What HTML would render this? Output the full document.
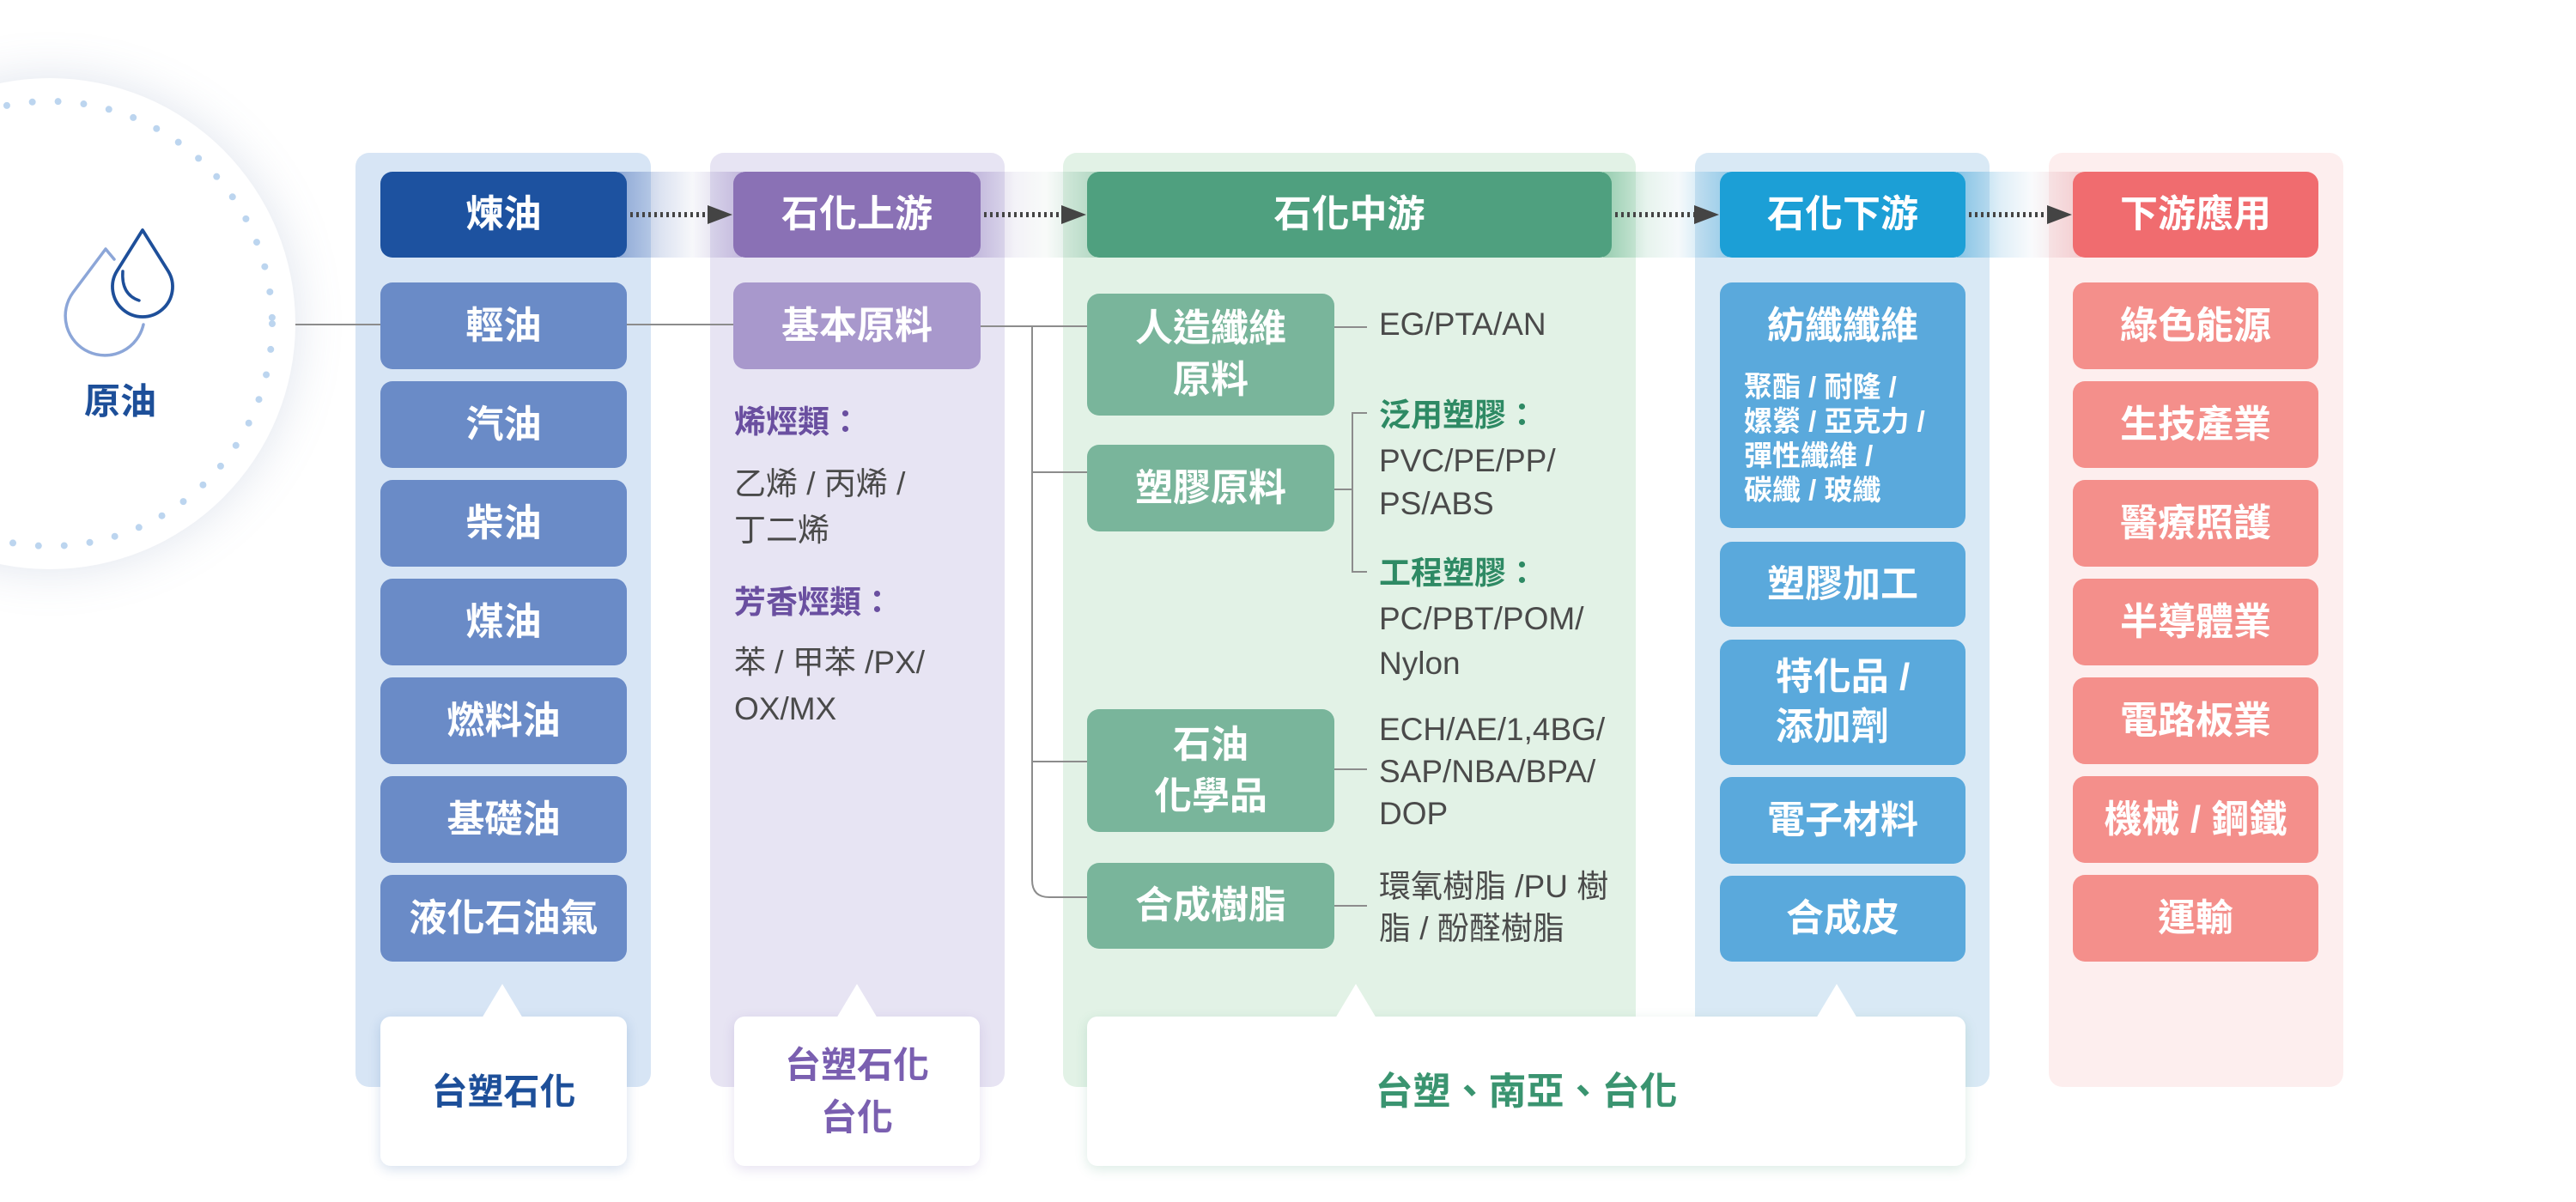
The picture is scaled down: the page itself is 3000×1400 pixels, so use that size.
<!DOCTYPE html>
<html>
<head>
<meta charset="utf-8">
<style>
  html,body{margin:0;padding:0;background:#fff;}
  body{width:3000px;height:1400px;position:relative;overflow:hidden;
       font-family:"Liberation Sans","Noto Sans CJK TC","Noto Sans CJK SC",sans-serif;}
  .abs{position:absolute;}
  .col{position:absolute;top:178px;height:1088px;border-radius:16px;z-index:1;}
  .band{position:absolute;top:200px;height:100px;z-index:2;}
  .b{position:absolute;display:flex;align-items:center;justify-content:center;text-align:center;
     color:#fff;font-size:44px;font-weight:700;border-radius:14px;z-index:4;line-height:60px;}
  .t{position:absolute;z-index:4;font-size:37px;line-height:50px;color:#4a4a4a;white-space:nowrap;}
  .co{position:absolute;top:1184px;height:174px;background:#fff;border-radius:12px;z-index:5;
      display:flex;align-items:center;justify-content:center;text-align:center;font-size:42px;line-height:61px;}
  .ptr{position:absolute;top:1146px;height:40px;background:#fff;z-index:6;
       clip-path:polygon(50% 0,100% 100%,0 100%);}
  svg.ov{position:absolute;left:0;top:0;z-index:3;}
</style>
</head>
<body>

<!-- crude oil circle -->
<div class="abs" style="left:-228px;top:91px;width:572px;height:572px;border-radius:50%;background:#fff;box-shadow:0 0 55px rgba(110,130,175,0.22);z-index:1;"></div>

<!-- column backgrounds -->
<div class="col" style="left:414px;width:344px;background:#d7e5f5;"></div>
<div class="col" style="left:827px;width:343px;background:#e7e4f3;"></div>
<div class="col" style="left:1238px;width:667px;background:#e2f2e6;"></div>
<div class="col" style="left:1974px;width:343px;background:#d9e9f5;"></div>
<div class="col" style="left:2386px;width:343px;background:#fdeeee;"></div>

<!-- bands -->
<div class="band" style="left:720px;width:144px;background:linear-gradient(to right,rgba(40,85,170,0.42),rgba(120,145,200,0.25) 35%,rgba(200,205,225,0.15) 60%,rgba(120,95,175,0.32));"></div>
<div class="band" style="left:1132px;width:144px;background:linear-gradient(to right,rgba(120,95,175,0.35),rgba(190,185,215,0.18) 35%,rgba(210,225,215,0.15) 60%,rgba(60,150,110,0.28));"></div>
<div class="band" style="left:1867px;width:146px;background:linear-gradient(to right,rgba(60,160,110,0.45),rgba(160,210,185,0.25) 35%,rgba(190,215,230,0.15) 60%,rgba(30,150,210,0.35));"></div>
<div class="band" style="left:2279px;width:145px;background:linear-gradient(to right,rgba(30,150,210,0.45),rgba(150,200,230,0.3) 35%,rgba(215,225,235,0.15) 60%,rgba(220,120,130,0.28));"></div>

<svg class="ov" width="3000" height="1400" viewBox="0 0 3000 1400">
  <!-- dotted ring -->
  <circle cx="58" cy="377" r="259" fill="none" stroke="#bcd5ef" stroke-width="8" stroke-linecap="round" stroke-dasharray="0 30"/>
  <!-- drops -->
  <path d="M133 302 L123 290 L84.8 341 A46 46 0 1 0 167 378" fill="none" stroke="#8ca6d8" stroke-width="3.5" stroke-linejoin="round" stroke-linecap="round"/>
  <path d="M166 268 L136.3 315.5 A35 35 0 1 0 195.7 315.5 Z" fill="none" stroke="#1e4f9a" stroke-width="3.8" stroke-linejoin="round"/>
  <path d="M143 316 Q141 343 162 350" fill="none" stroke="#1e4f9a" stroke-width="3.5" stroke-linecap="round"/>

  <!-- connector lines -->
  <g stroke="#8c8c8c" stroke-width="2" fill="none">
    <line x1="344" y1="378" x2="443" y2="378"/>
    <line x1="730" y1="378" x2="854" y2="378"/>
    <line x1="1142" y1="380" x2="1266" y2="380"/>
    <path d="M1202 380 L1202 1025 Q1202 1045 1222 1045 L1266 1045"/>
    <line x1="1202" y1="550" x2="1266" y2="550"/>
    <line x1="1202" y1="887" x2="1266" y2="887"/>
    <line x1="1554" y1="381" x2="1592" y2="381"/>
    <line x1="1554" y1="570" x2="1575" y2="570"/>
    <path d="M1592 481 L1575 481 L1575 666 L1592 666"/>
    <line x1="1554" y1="896" x2="1592" y2="896"/>
    <line x1="1554" y1="1055" x2="1592" y2="1055"/>
  </g>

  <!-- dotted arrows -->
  <g stroke="#444" stroke-width="6" stroke-dasharray="3 4">
    <line x1="734" y1="250" x2="826" y2="250"/>
    <line x1="1146" y1="250" x2="1238" y2="250"/>
    <line x1="1881" y1="250" x2="1975" y2="250"/>
    <line x1="2293" y1="250" x2="2386" y2="250"/>
  </g>
  <g fill="#444">
    <polygon points="824,239 853,250 824,261"/>
    <polygon points="1236,239 1265,250 1236,261"/>
    <polygon points="1973,239 2002,250 1973,261"/>
    <polygon points="2384,239 2413,250 2384,261"/>
  </g>
</svg>

<div class="abs" style="left:80px;top:438px;width:120px;text-align:center;font-size:42px;line-height:60px;font-weight:700;color:#1d4f99;z-index:4;">原油</div>

<!-- column 1 -->
<div class="b" style="left:443px;top:200px;width:287px;height:100px;background:#1d52a0;">煉油</div>
<div class="b" style="left:443px;top:329px;width:287px;height:101px;background:#6a8bc7;">輕油</div>
<div class="b" style="left:443px;top:444px;width:287px;height:101px;background:#6a8bc7;">汽油</div>
<div class="b" style="left:443px;top:559px;width:287px;height:101px;background:#6a8bc7;">柴油</div>
<div class="b" style="left:443px;top:674px;width:287px;height:101px;background:#6a8bc7;">煤油</div>
<div class="b" style="left:443px;top:789px;width:287px;height:101px;background:#6a8bc7;">燃料油</div>
<div class="b" style="left:443px;top:904px;width:287px;height:101px;background:#6a8bc7;">基礎油</div>
<div class="b" style="left:443px;top:1019px;width:287px;height:101px;background:#6a8bc7;">液化石油氣</div>

<!-- column 2 -->
<div class="b" style="left:854px;top:200px;width:288px;height:100px;background:#8a71b5;">石化上游</div>
<div class="b" style="left:854px;top:329px;width:288px;height:101px;background:#a898cc;">基本原料</div>
<div class="t" style="left:855px;top:467px;color:#6a4fa0;font-weight:700;">烯烴類：</div>
<div class="t" style="left:855px;top:539px;">乙烯 / 丙烯 /</div>
<div class="t" style="left:855px;top:593px;">丁二烯</div>
<div class="t" style="left:855px;top:677px;color:#6a4fa0;font-weight:700;">芳香烴類：</div>
<div class="t" style="left:855px;top:747px;">苯 / 甲苯 /PX/</div>
<div class="t" style="left:855px;top:801px;">OX/MX</div>

<!-- column 3 -->
<div class="b" style="left:1266px;top:200px;width:611px;height:100px;background:#4fa07f;">石化中游</div>
<div class="b" style="left:1266px;top:342px;width:288px;height:142px;background:#79b59b;">人造纖維<br>原料</div>
<div class="b" style="left:1266px;top:518px;width:288px;height:101px;background:#79b59b;">塑膠原料</div>
<div class="b" style="left:1266px;top:826px;width:288px;height:143px;background:#79b59b;">石油<br>化學品</div>
<div class="b" style="left:1266px;top:1005px;width:288px;height:100px;background:#79b59b;">合成樹脂</div>

<div class="t" style="left:1606px;top:353px;">EG/PTA/AN</div>
<div class="t" style="left:1606px;top:459px;color:#2e8a64;font-weight:700;">泛用塑膠：</div>
<div class="t" style="left:1606px;top:512px;">PVC/PE/PP/</div>
<div class="t" style="left:1606px;top:562px;">PS/ABS</div>
<div class="t" style="left:1606px;top:643px;color:#2e8a64;font-weight:700;">工程塑膠：</div>
<div class="t" style="left:1606px;top:696px;">PC/PBT/POM/</div>
<div class="t" style="left:1606px;top:748px;">Nylon</div>
<div class="t" style="left:1606px;top:825px;">ECH/AE/1,4BG/</div>
<div class="t" style="left:1606px;top:874px;">SAP/NBA/BPA/</div>
<div class="t" style="left:1606px;top:923px;">DOP</div>
<div class="t" style="left:1606px;top:1008px;">環氧樹脂 /PU 樹</div>
<div class="t" style="left:1606px;top:1057px;">脂 / 酚醛樹脂</div>

<!-- column 4 -->
<div class="b" style="left:2003px;top:200px;width:286px;height:100px;background:#1c9fd6;">石化下游</div>
<div class="b" style="left:2003px;top:329px;width:286px;height:286px;background:#5aa9dc;align-items:flex-start;"></div>
<div class="abs" style="left:2003px;top:350px;width:286px;text-align:center;color:#fff;font-size:44px;font-weight:700;line-height:60px;z-index:5;">紡纖纖維</div>
<div class="abs" style="left:2031px;top:431px;color:#fff;font-size:33px;line-height:40px;font-weight:700;z-index:5;white-space:nowrap;">聚酯 / 耐隆 /<br>嫘縈 / 亞克力 /<br>彈性纖維 /<br>碳纖 / 玻纖</div>
<div class="b" style="left:2003px;top:631px;width:286px;height:99px;background:#5aa9dc;">塑膠加工</div>
<div class="b" style="left:2003px;top:745px;width:286px;height:146px;background:#5aa9dc;line-height:58px;"><div style="text-align:left;">特化品 /<br>添加劑</div></div>
<div class="b" style="left:2003px;top:905px;width:286px;height:101px;background:#5aa9dc;">電子材料</div>
<div class="b" style="left:2003px;top:1020px;width:286px;height:100px;background:#5aa9dc;">合成皮</div>

<!-- column 5 -->
<div class="b" style="left:2414px;top:200px;width:286px;height:100px;background:#f06c6f;">下游應用</div>
<div class="b" style="left:2414px;top:329px;width:286px;height:101px;background:#f48f8b;">綠色能源</div>
<div class="b" style="left:2414px;top:444px;width:286px;height:101px;background:#f48f8b;">生技產業</div>
<div class="b" style="left:2414px;top:559px;width:286px;height:101px;background:#f48f8b;">醫療照護</div>
<div class="b" style="left:2414px;top:674px;width:286px;height:101px;background:#f48f8b;">半導體業</div>
<div class="b" style="left:2414px;top:789px;width:286px;height:101px;background:#f48f8b;">電路板業</div>
<div class="b" style="left:2414px;top:904px;width:286px;height:101px;background:#f48f8b;">機械 / 鋼鐵</div>
<div class="b" style="left:2414px;top:1019px;width:286px;height:101px;background:#f48f8b;">運輸</div>

<!-- callouts -->
<div class="co" style="left:443px;width:287px;color:#1d4f99;font-weight:700;box-shadow:0 4px 14px rgba(29,82,160,0.18);">台塑石化</div>
<div class="ptr" style="left:561px;width:48px;"></div>

<div class="co" style="left:855px;width:286px;color:#7a5fb0;font-weight:700;box-shadow:0 4px 14px rgba(120,95,175,0.18);">台塑石化<br>台化</div>
<div class="ptr" style="left:974px;width:48px;"></div>

<div class="co" style="left:1266px;width:1023px;color:#3a9470;font-weight:700;font-size:44px;box-shadow:0 4px 14px rgba(60,150,110,0.18);">台塑、南亞、台化</div>
<div class="ptr" style="left:1555px;width:48px;"></div>
<div class="ptr" style="left:2115px;width:48px;"></div>

</body>
</html>
